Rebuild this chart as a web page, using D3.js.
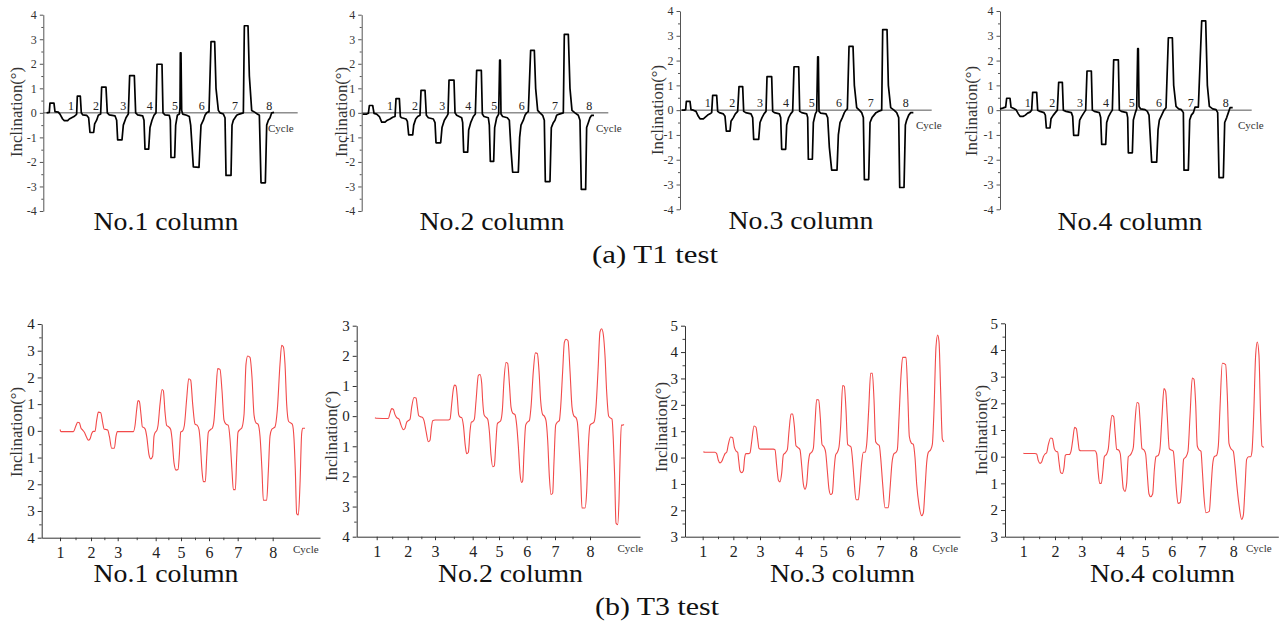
<!DOCTYPE html>
<html><head><meta charset="utf-8">
<script src="https://cdn.jsdelivr.net/npm/d3@7/dist/d3.min.js"></script>
<style>
html,body{margin:0;padding:0;background:#fff;}
svg{display:block;font-family:"Times New Roman","Liberation Serif",Tinos,Times,serif;}
</style></head>
<body><svg id="c" width="1285" height="625"></svg>
<script>
// ---------------- DATA ----------------
const cycleLabels = ["1","2","3","4","5","6","7","8"];
const columnTitles = ["No.1 column","No.2 column","No.3 column","No.4 column"];
const groupTitles = ["(a) T1 test","(b) T3 test"];
const axisTitle = "Inclination(°)";
const cycleWord = "Cycle";

// T1 test: [sample, inclination]
const t1No1 = [[140,0],[148,0.02],[150,0.4],[162,0.4],[165,0.05],[175,0.03],[180,-0.05],[188,-0.25],[193,-0.32],[203,-0.32],[208,-0.25],[215,-0.2],[222,-0.15],[228,-0.08],[230,-0.05],[232,0.68],[241,0.68],[244,0],[248,-0.08],[260,-0.1],[266,-0.2],[270,-0.8],[281,-0.8],[284,-0.45],[290,-0.3],[295,-0.1],[302,-0.05],[305,1.05],[318,1.05],[322,0],[328,-0.08],[345,-0.12],[350,-0.3],[353,-1.1],[366,-1.1],[370,-0.5],[378,-0.2],[385,-0.05],[389,1.52],[403,1.52],[407,0],[413,-0.08],[428,-0.12],[432,-0.3],[435,-1.48],[446,-1.48],[450,-0.6],[456,-0.3],[462,-0.1],[468,0],[471,1.98],[486,1.98],[489,0],[495,-0.08],[508,-0.1],[511,-0.3],[513,-1.82],[524,-1.82],[527,-0.5],[532,-0.1],[538,-0.05],[540,0.2],[541,2.45],[543,2.45],[545,0.1],[548,-0.05],[560,-0.1],[568,-0.15],[572,-0.5],[580,-2.2],[597,-2.22],[600,-1.3],[603,-0.5],[610,-0.3],[615,-0.1],[620,0],[627,0.05],[633,2.9],[644,2.9],[648,1.0],[655,0.1],[660,0],[670,-0.05],[675,-0.2],[678,-2.55],[693,-2.55],[696,-0.5],[700,-0.3],[705,-0.2],[710,-0.1],[718,-0.05],[730,0],[733,3.55],[744,3.55],[748,1.5],[755,0.1],[765,0.02],[772,-0.05],[778,-0.1],[783,-2.85],[796,-2.85],[800,-0.5],[805,-0.3],[810,-0.2],[815,0],[822,0.02]];
const t1No2 = [[128,-0.05],[140,-0.05],[145,-0.02],[148,0.3],[158,0.3],[162,-0.02],[170,-0.05],[178,-0.15],[185,-0.38],[195,-0.38],[202,-0.3],[210,-0.25],[218,-0.18],[225,-0.15],[228,0.58],[238,0.58],[241,-0.15],[245,-0.2],[258,-0.25],[262,-0.35],[266,-0.9],[278,-0.9],[281,-0.5],[287,-0.25],[293,-0.15],[300,-0.1],[303,0.92],[315,0.92],[319,-0.1],[325,-0.2],[340,-0.25],[345,-0.4],[348,-1.22],[362,-1.22],[366,-0.6],[373,-0.3],[380,-0.15],[384,-0.05],[387,1.33],[402,1.33],[405,0],[410,-0.1],[425,-0.2],[428,-0.4],[431,-1.6],[443,-1.6],[446,-0.7],[452,-0.4],[460,-0.15],[466,-0.05],[470,1.73],[484,1.73],[487,-0.05],[492,-0.15],[505,-0.2],[508,-0.5],[511,-1.98],[521,-1.98],[524,-0.6],[530,-0.2],[536,-0.05],[539,2.15],[541,2.15],[543,-0.05],[548,-0.15],[562,-0.2],[568,-0.3],[573,-1.5],[578,-2.42],[595,-2.42],[599,-1.0],[603,-0.5],[610,-0.3],[615,-0.1],[620,0],[625,0.05],[632,2.55],[643,2.55],[647,1.0],[653,0.1],[660,0],[668,-0.1],[673,-0.3],[676,-2.8],[690,-2.8],[694,-0.6],[700,-0.4],[705,-0.3],[710,-0.1],[718,-0.05],[730,0],[733,3.2],[745,3.2],[750,1.0],[756,0.1],[765,0],[775,-0.1],[780,-0.3],[784,-3.12],[797,-3.12],[800,-0.6],[805,-0.4],[810,-0.2],[815,-0.1],[822,-0.1]];
const t1No3 = [[125,0],[133,0],[137,0.02],[139,0.35],[150,0.35],[153,0.02],[160,0],[168,-0.05],[175,-0.25],[180,-0.35],[190,-0.35],[196,-0.28],[203,-0.2],[210,-0.15],[215,-0.1],[218,0.6],[230,0.6],[233,-0.05],[238,-0.1],[250,-0.15],[255,-0.25],[259,-0.85],[270,-0.85],[273,-0.45],[280,-0.3],[286,-0.15],[293,-0.05],[297,0.95],[308,0.95],[311,-0.05],[317,-0.1],[333,-0.15],[338,-0.3],[341,-1.18],[356,-1.18],[360,-0.5],[366,-0.3],[372,-0.15],[378,-0.05],[381,1.35],[395,1.35],[398,-0.05],[403,-0.1],[418,-0.15],[422,-0.3],[425,-1.58],[437,-1.58],[440,-0.6],[446,-0.3],[452,-0.15],[458,-0.05],[462,1.75],[476,1.75],[479,-0.05],[485,-0.1],[500,-0.15],[503,-0.3],[505,-1.98],[517,-1.98],[520,-0.5],[526,-0.15],[530,-0.05],[533,2.15],[535,2.15],[537,-0.05],[542,-0.12],[558,-0.15],[563,-0.3],[568,-1.5],[575,-2.42],[591,-2.42],[595,-1.0],[600,-0.5],[607,-0.3],[613,-0.1],[618,0],[622,0.05],[627,2.57],[639,2.57],[643,1.0],[650,0.1],[658,0],[665,-0.1],[670,-0.3],[673,-2.8],[686,-2.8],[690,-0.5],[696,-0.3],[702,-0.2],[708,-0.1],[715,-0.05],[725,0],[728,3.25],[741,3.25],[745,1.0],[752,0.1],[762,0],[770,-0.1],[776,-0.3],[779,-3.12],[792,-3.12],[796,-0.6],[800,-0.4],[806,-0.2],[812,-0.1],[820,-0.1]];
const t1No4 = [[120,0.05],[128,0.08],[132,0.1],[137,0.12],[140,0.48],[150,0.48],[153,0.12],[160,0.08],[168,0.02],[175,-0.15],[180,-0.25],[190,-0.25],[196,-0.2],[203,-0.12],[210,-0.08],[215,0],[218,0.72],[230,0.72],[233,0],[240,-0.05],[252,-0.1],[256,-0.2],[259,-0.72],[270,-0.72],[273,-0.35],[280,-0.2],[286,-0.1],[292,0],[296,1.12],[307,1.12],[310,0],[318,-0.05],[334,-0.1],[338,-0.25],[341,-1.02],[355,-1.02],[359,-0.4],[365,-0.25],[372,-0.1],[377,0],[381,1.58],[394,1.58],[397,0],[403,-0.05],[418,-0.1],[422,-0.3],[425,-1.38],[437,-1.38],[440,-0.5],[446,-0.25],[452,-0.1],[457,0],[461,2.03],[475,2.03],[478,0],[484,-0.05],[500,-0.1],[503,-0.3],[505,-1.72],[517,-1.72],[520,-0.4],[526,-0.1],[530,0.05],[533,2.48],[535,2.48],[537,0.15],[542,0.05],[555,0.02],[562,-0.05],[567,-0.2],[575,-2.1],[590,-2.1],[594,-0.8],[598,-0.4],[605,-0.2],[612,0],[618,0.1],[625,2.92],[637,2.92],[641,1.0],[648,0.15],[656,0.05],[664,0.02],[670,-0.1],[672,-2.42],[685,-2.42],[689,-0.4],[694,-0.2],[700,-0.1],[705,0.12],[715,0.12],[725,3.6],[737,3.6],[742,1.0],[748,0.15],[758,0.05],[768,0.02],[773,-0.1],[777,-2.72],[790,-2.72],[794,-0.5],[800,-0.3],[805,-0.1],[810,0.1],[818,0.1]];

// sample positions of the cycle numbers in T1 panels
const t1CyclePos = [
  [213,288,370,449,525,605,705,808],
  [210,285,367,445,523,605,705,808],
  [203,277,360,438,515,597,692,797],
  [203,277,360,438,515,597,692,797]
];
const t1YTicks = [-4,-3,-2,-1,0,1,2,3,4];
const t1YLabels = ["-4","-3","-2","-1","0","1","2","3","4"];

// T3 test: [sample, inclination]
const t3No1 = [[180,0.05],[183,-0.03],[220,-0.03],[228,0.2],[233,0.32],[238,0.3],[243,0.1],[248,0.03],[253,-0.05],[260,-0.25],[265,-0.35],[270,-0.3],[275,-0.1],[280,-0.02],[285,-0.02],[290,0.4],[295,0.7],[302,0.68],[308,0.3],[312,0.07],[318,0.05],[323,0.03],[328,-0.2],[335,-0.65],[343,-0.65],[348,-0.2],[352,-0.03],[360,-0.03],[400,-0.03],[405,0.2],[410,0.8],[414,1.13],[418,1.1],[423,0.6],[427,0.15],[432,0.12],[436,0.05],[440,-0.2],[447,-0.9],[452,-1.05],[458,-0.95],[462,-0.2],[466,-0.05],[470,0],[474,0.2],[480,1.0],[486,1.55],[490,1.5],[495,0.7],[500,0.2],[506,0.15],[512,0.05],[516,-0.3],[522,-1.2],[528,-1.47],[534,-1.45],[538,-0.9],[542,-0.05],[548,0],[553,0.2],[560,1.2],[566,1.95],[572,1.9],[578,1.0],[585,0.25],[592,0.2],[597,0.05],[600,-0.3],[606,-1.5],[610,-1.9],[616,-1.9],[620,-1.0],[625,-0.05],[632,0.05],[637,0.1],[642,0.4],[648,1.5],[653,2.33],[660,2.3],[666,1.5],[672,0.4],[678,0.25],[685,0.2],[690,-0.3],[696,-1.5],[700,-2.2],[706,-2.2],[710,-1.0],[714,-0.05],[720,0.05],[725,0.1],[732,0.6],[738,2.5],[743,2.8],[750,2.75],[756,2.0],[762,0.6],[768,0.3],[774,0.25],[780,-0.2],[786,-1.5],[790,-2.6],[800,-2.6],[805,-1.5],[810,-0.2],[815,0.05],[820,0.1],[825,0.15],[832,0.8],[840,2.5],[845,3.2],[850,3.15],[855,2.5],[860,1.0],[866,0.35],[872,0.3],[877,0.25],[882,-0.3],[886,-1.5],[890,-3.1],[895,-3.15],[900,-2.0],[905,-0.1],[908,0.1],[915,0.1]];
const t3No2 = [[165,-0.05],[170,-0.07],[205,-0.08],[210,0.1],[215,0.25],[220,0.22],[225,0.05],[230,-0.05],[237,-0.1],[243,-0.3],[250,-0.45],[255,-0.4],[260,-0.2],[265,-0.15],[270,-0.1],[275,0.3],[282,0.62],[288,0.6],[292,0.3],[296,0.02],[302,-0.02],[308,-0.05],[312,-0.15],[318,-0.5],[325,-0.85],[330,-0.8],[334,-0.4],[338,-0.15],[345,-0.13],[385,-0.13],[390,-0.1],[395,0.4],[400,0.9],[404,1.03],[408,1.0],[412,0.6],[416,0.05],[420,-0.03],[425,-0.05],[430,-0.3],[436,-1.0],[440,-1.25],[445,-1.2],[450,-0.5],[454,-0.2],[458,-0.18],[463,-0.1],[468,0.5],[475,1.35],[480,1.38],[485,1.1],[488,0.5],[492,0.05],[497,-0.03],[503,-0.1],[508,-0.5],[513,-1.3],[518,-1.68],[523,-1.65],[527,-1.0],[532,-0.25],[537,-0.2],[542,-0.15],[547,0.2],[552,1.2],[558,1.78],[563,1.75],[568,1.1],[573,0.3],[578,0.1],[585,0.05],[590,-0.3],[595,-1.0],[600,-1.9],[605,-2.2],[608,-2.15],[612,-1.2],[617,-0.3],[622,-0.2],[628,-0.15],[633,0.3],[640,1.5],[646,2.1],[652,2.08],[657,1.5],[662,0.5],[668,0.05],[673,0],[678,-0.15],[683,-0.8],[688,-2.0],[693,-2.6],[698,-2.55],[702,-1.5],[707,-0.3],[712,-0.2],[718,-0.15],[722,0.3],[728,1.5],[733,2.45],[738,2.55],[744,2.5],[750,1.5],[756,0.3],[762,0],[768,-0.05],[772,-0.2],[777,-1.0],[782,-2.0],[786,-3.05],[795,-3.05],[800,-2.5],[805,-1.0],[810,-0.3],[815,-0.25],[822,-0.2],[828,0.3],[834,1.5],[840,2.8],[845,2.9],[850,2.7],[855,2.0],[860,0.8],[866,0],[870,-0.05],[876,-0.1],[880,-0.8],[884,-2.0],[888,-3.55],[893,-3.6],[897,-2.8],[900,-1.5],[904,-0.3],[908,-0.3],[912,-0.28]];
const t3No3 = [[190,0.22],[195,0.2],[225,0.2],[230,0.15],[235,-0.1],[240,-0.2],[245,-0.15],[250,0],[255,0.15],[260,0.2],[265,0.5],[272,0.78],[278,0.75],[283,0.4],[288,0.25],[293,0.2],[296,-0.1],[300,-0.5],[305,-0.57],[310,-0.5],[314,0],[318,0.15],[325,0.15],[330,0.18],[335,0.6],[342,1.2],[348,1.15],[353,0.7],[357,0.35],[362,0.32],[400,0.32],[405,0.3],[410,-0.3],[415,-0.85],[420,-0.92],[425,-0.6],[430,0.1],[436,0.18],[442,0.3],[447,1.0],[453,1.65],[458,1.65],[463,1.2],[468,0.45],[474,0.38],[480,0.3],[485,-0.3],[490,-1.0],[495,-1.2],[500,-1.0],[505,-0.2],[510,0.15],[515,0.2],[520,0.35],[525,1.3],[530,2.2],[536,2.18],[541,1.5],[546,0.5],[552,0.4],[557,0.2],[562,-0.5],[567,-1.2],[572,-1.4],[577,-1.35],[582,-0.5],[587,0.1],[592,0.2],[597,0.4],[602,1.2],[608,2.73],[613,2.7],[618,1.8],[623,0.5],[628,0.45],[633,0.4],[637,0],[642,-0.8],[648,-1.6],[655,-1.6],[660,-1.0],[665,-0.2],[670,0.2],[675,0.2],[680,0.5],[686,1.8],[692,3.2],[697,3.2],[702,2.2],[707,0.6],[713,0.5],[718,0.45],[722,0],[728,-1.0],[735,-1.9],[745,-1.9],[750,-1.2],[756,-0.2],[762,0.15],[768,0.2],[772,0.3],[777,1.5],[783,3.1],[788,3.8],[798,3.8],[803,2.5],[808,0.8],[814,0.55],[820,0.5],[825,0],[830,-1.0],[837,-1.8],[845,-2.2],[850,-2.1],[855,-1.2],[860,-0.2],[865,0.2],[872,0.3],[877,0.5],[882,1.8],[888,4.2],[893,4.65],[897,4.4],[902,2.5],[907,0.7],[912,0.6]];
const t3No4 = [[190,0.13],[195,0.12],[225,0.12],[230,0.1],[235,-0.15],[240,-0.25],[245,-0.2],[250,0],[255,0.1],[260,0.15],[265,0.45],[272,0.7],[277,0.68],[283,0.3],[288,0.2],[293,0.18],[297,-0.2],[302,-0.6],[307,-0.63],[312,-0.4],[316,0.05],[320,0.08],[328,0.08],[333,0.2],[338,0.6],[344,1.1],[349,1.05],[354,0.6],[358,0.25],[363,0.22],[405,0.22],[410,0.1],[414,-0.5],[419,-1.0],[424,-1.0],[429,-0.5],[433,0],[440,0.1],[445,0.3],[450,1.0],[456,1.55],[461,1.5],[466,0.8],[470,0.28],[476,0.25],[481,0.1],[485,-0.5],[490,-1.2],[495,-1.3],[500,-1.0],[505,0],[510,0.05],[515,0.15],[520,0.35],[525,1.3],[531,2.03],[536,2.0],[541,1.2],[546,0.3],[552,0.25],[557,0.1],[561,-0.5],[567,-1.4],[572,-1.5],[578,-1.4],[583,-0.5],[588,0],[595,0.05],[600,0.3],[606,1.5],[612,2.55],[617,2.45],[622,1.5],[628,0.3],[634,0.25],[640,0.2],[644,-0.3],[649,-1.2],[654,-1.75],[661,-1.72],[666,-1.0],[671,-0.1],[678,0],[684,0.2],[690,1.5],[697,2.95],[702,2.9],[707,2.0],[712,0.4],[718,0.25],[723,0.2],[727,-0.5],[732,-1.5],[738,-2.1],[748,-2.05],[753,-1.2],[758,-0.3],[763,0],[770,0.05],[775,0.4],[780,1.8],[787,3.5],[797,3.45],[802,2.3],[807,0.5],[813,0.3],[820,0.2],[825,-0.3],[830,-1.0],[837,-1.8],[845,-2.35],[850,-2.2],[855,-1.2],[860,-0.1],[866,0],[872,0],[876,0.2],[881,1.5],[887,3.8],[892,4.3],[897,3.8],[902,1.5],[906,0.4],[912,0.35]];

// sample positions of the cycle tick labels in T3 panels
const t3CyclePos = [
  [180,273,353,467,543,627,713,818],
  [170,263,345,458,537,620,705,810],
  [188,280,360,476,550,630,720,820],
  [190,285,365,480,555,635,725,820]
];
const t3YTicks = [[-4,-3,-2,-1,0,1,2,3,4],[-4,-3,-2,-1,0,1,2,3],[-3,-2,-1,0,1,2,3,4,5],[-3,-2,-1,0,1,2,3,4,5]];
const t3YLabels = [["4","3","2","1","0","1","2","3","4"],["4","3","2","1","0","1","2","3"],["3","2","1","0","1","2","3","4","5"],["3","2","1","0","1","2","3","4","5"]];
const t3YDomains = [[-4,4],[-4,3],[-3,5],[-3,5]];

// ---------------- LAYOUT ----------------
const t1Series = [t1No1,t1No2,t1No3,t1No4];
const t3Series = [t3No1,t3No2,t3No3,t3No4];
const t1Layout = [
  {d:[130,893], r:[43.3,297.7], y:[211,14.7], yl:[16,112], tt:[166,230], cyc:268},
  {d:[125,865], r:[361.7,608.3], y:[211,14.7], yl:[341,112], tt:[492,230], cyc:596},
  {d:[120,875], r:[680,931.7], y:[209.3,11], yl:[657.5,110], tt:[801,229], cyc:916},
  {d:[120,875], r:[1000,1251.7], y:[209.3,11], yl:[971,111], tt:[1130,230], cyc:1238}
];
const t3Layout = [
  {d:[125,960], r:[41.7,320], y:[537.7,324], yl:[16,432], tt:[166,582], cyc:293},
  {d:[110,960], r:[356.7,640], y:[536.7,325.7], yl:[331,436], tt:[510.5,582], cyc:617.5},
  {d:[135,960], r:[685,960], y:[536.7,325.7], yl:[661.5,427], tt:[842.5,582], cyc:932.5},
  {d:[135,955], r:[1005,1278.3], y:[536.7,323.3], yl:[981.5,430], tt:[1162.5,582], cyc:1246}
];

const svg = d3.select("#c");
const serif = '"Times New Roman","Liberation Serif",Tinos,Times,serif';

function yTitle(g, cx, cy){
  g.append("text").attr("transform",`translate(${cx},${cy}) rotate(-90)`)
   .attr("text-anchor","middle").attr("dominant-baseline","central")
   .attr("font-family",serif)
   .attr("font-size",16).attr("fill","#333").attr("textLength",90).attr("lengthAdjust","spacingAndGlyphs")
   .text(axisTitle);
}
function colTitle(g, cx, by, txt){
  g.append("text").attr("x",cx).attr("y",by).attr("text-anchor","middle").attr("font-family",serif)
   .attr("font-size",25).attr("fill","#111").attr("textLength",145).attr("lengthAdjust","spacingAndGlyphs")
   .text(txt);
}

// ---------- T1 panels ----------
t1Series.forEach((data,i)=>{
  const L = t1Layout[i];
  const g = svg.append("g");
  const x = d3.scaleLinear().domain(L.d).range(L.r);
  const y = d3.scaleLinear().domain([-4,4]).range(L.y);
  const minor = d3.range(-4,4,1).map(v=>v+0.5);
  g.append("g").attr("transform",`translate(${L.r[0]},0)`)
    .call(d3.axisLeft(y).tickValues(minor).tickSize(2).tickFormat(""))
    .call(s=>{s.select(".domain").remove(); s.selectAll("line").attr("stroke","#555");});
  const ax = g.append("g").attr("transform",`translate(${L.r[0]},0)`)
    .call(d3.axisLeft(y).tickValues(t1YTicks).tickSize(3.5).tickPadding(3).tickSizeOuter(0)
      .tickFormat((d,k)=>t1YLabels[k]));
  ax.select(".domain").attr("stroke","#555");
  ax.selectAll("line").attr("stroke","#555");
  ax.selectAll("text").attr("font-family",serif).attr("font-size",12).attr("fill","#333");
  g.append("line").attr("x1",x(L.d[0])).attr("x2",x(L.d[1])).attr("y1",y(0)).attr("y2",y(0))
    .attr("stroke","#555").attr("stroke-width",1);
  const line = d3.line().x(d=>x(d[0])).y(d=>y(d[1])).curve(d3.curveLinear);
  g.append("path").datum(data).attr("d",line).attr("fill","none").attr("stroke","#000")
    .attr("stroke-width",1.7).attr("stroke-linejoin","round");
  g.selectAll("text.cyc").data(cycleLabels).join("text").attr("class","cyc")
    .attr("x",(d,k)=>x(t1CyclePos[i][k])).attr("y",y(0)-3).attr("text-anchor","middle")
    .attr("font-family",serif).attr("font-size",12).attr("fill","#222").text(d=>d);
  g.append("text").attr("x",L.cyc).attr("y",y(0)+19).attr("font-family",serif).attr("font-size",11).attr("fill","#333").text(cycleWord);
  yTitle(g, L.yl[0], L.yl[1]);
  colTitle(g, L.tt[0], L.tt[1], columnTitles[i]);
});

// ---------- T3 panels ----------
t3Series.forEach((data,i)=>{
  const L = t3Layout[i];
  const g = svg.append("g");
  const x = d3.scaleLinear().domain(L.d).range(L.r);
  const y = d3.scaleLinear().domain(t3YDomains[i]).range(L.y);
  const dom = t3YDomains[i];
  const minor = d3.range(dom[0],dom[1],1).map(v=>v+0.5);
  g.append("g").attr("transform",`translate(${L.r[0]},0)`)
    .call(d3.axisLeft(y).tickValues(minor).tickSize(2.5).tickFormat(""))
    .call(s=>{s.select(".domain").remove(); s.selectAll("line").attr("stroke","#444");});
  const ay = g.append("g").attr("transform",`translate(${L.r[0]},0)`)
    .call(d3.axisLeft(y).tickValues(t3YTicks[i]).tickSize(4).tickPadding(3).tickSizeOuter(0)
      .tickFormat((d,k)=>t3YLabels[i][k]));
  ay.select(".domain").attr("stroke","#333");
  ay.selectAll("line").attr("stroke","#333");
  ay.selectAll("text").attr("font-family",serif).attr("font-size",15).attr("fill","#222");
  const pos = t3CyclePos[i];
  const xMinor = pos.slice(1).map((p,k)=>(p+pos[k])/2);
  g.append("g").attr("transform",`translate(0,${L.y[0]})`)
    .call(d3.axisBottom(x).tickValues(xMinor).tickSize(2.5).tickFormat(""))
    .call(s=>{s.select(".domain").remove(); s.selectAll("line").attr("stroke","#444");});
  const axb = g.append("g").attr("transform",`translate(0,${L.y[0]})`)
    .call(d3.axisBottom(x).tickValues(pos).tickSize(3.5).tickPadding(5).tickSizeOuter(0)
      .tickFormat((d,k)=>cycleLabels[k]));
  axb.select(".domain").attr("stroke","#333");
  axb.selectAll("line").attr("stroke","#333");
  axb.selectAll("text").attr("font-family",serif).attr("font-size",16).attr("fill","#222");
  const line = d3.line().x(d=>x(d[0])).y(d=>y(d[1])).curve(d3.curveMonotoneX);
  g.append("path").datum(data).attr("d",line).attr("fill","none").attr("stroke","#f24a4a")
    .attr("stroke-width",1.1);
  g.append("text").attr("x",L.cyc).attr("y",L.y[0]+15).attr("font-family",serif).attr("font-size",11).attr("fill","#333").text(cycleWord);
  yTitle(g, L.yl[0], L.yl[1]);
  colTitle(g, L.tt[0], L.tt[1], columnTitles[i]);
});

svg.append("text").attr("x",655).attr("y",263).attr("text-anchor","middle").attr("font-family",serif).attr("font-size",26)
  .attr("fill","#111").attr("textLength",126).attr("lengthAdjust","spacingAndGlyphs").text(groupTitles[0]);
svg.append("text").attr("x",657).attr("y",615).attr("text-anchor","middle").attr("font-family",serif).attr("font-size",26)
  .attr("fill","#111").attr("textLength",124).attr("lengthAdjust","spacingAndGlyphs").text(groupTitles[1]);
</script></body></html>
